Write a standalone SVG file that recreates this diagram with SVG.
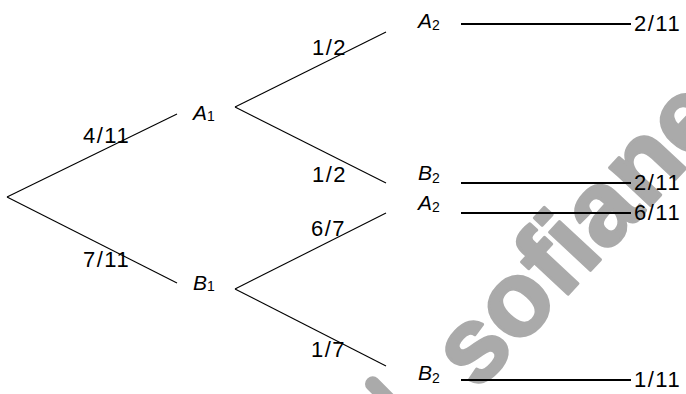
<svg xmlns="http://www.w3.org/2000/svg" width="686" height="394" viewBox="0 0 686 394">
<style>
.br{stroke:#000;stroke-width:1.1;fill:none}
.hl{stroke:#000;stroke-width:2;fill:none}
.lbl{font-family:"Liberation Sans",Arial,sans-serif;font-size:22px;letter-spacing:1.5px;fill:#000}
.nd{font-family:"Liberation Sans",Arial,sans-serif;font-size:21px;font-style:italic;fill:#000}
.sub{font-size:14px;font-style:normal}
.wm{font-family:"Liberation Sans",Arial,sans-serif;font-weight:bold;font-size:106px;fill:#aaaaaa;stroke:#aaaaaa;stroke-width:3;stroke-linejoin:round}
</style>
<rect width="686" height="394" fill="#fff"/>
<g id="watermark">
<text class="wm" transform="translate(477,392) rotate(-47)">sofiane</text>
<rect x="-7" y="-7" width="15" height="40" rx="7" fill="#aaaaaa" transform="translate(372,384) rotate(-45)"/>
</g>
<g id="connectors">
<line class="br" x1="7" y1="197" x2="177" y2="114"/>
<line class="br" x1="7" y1="197" x2="177" y2="283"/>
<line class="br" x1="235" y1="107" x2="386" y2="32"/>
<line class="br" x1="235" y1="107" x2="386" y2="183"/>
<line class="br" x1="235" y1="289" x2="386" y2="213"/>
<line class="br" x1="235" y1="289" x2="386" y2="366"/>
<line class="hl" x1="461" y1="24" x2="631" y2="24"/>
<line class="hl" x1="461" y1="183" x2="631" y2="183"/>
<line class="hl" x1="461" y1="213" x2="631" y2="213"/>
<line class="hl" x1="461" y1="380" x2="631" y2="380"/>
</g>
<g id="edge-labels">
<text class="lbl" x="83" y="143">4/11</text>
<text class="lbl" x="83" y="267">7/11</text>
<text class="lbl" x="312" y="55">1/2</text>
<text class="lbl" x="312" y="182">1/2</text>
<text class="lbl" x="311" y="236">6/7</text>
<text class="lbl" x="311" y="357">1/7</text>
</g>
<g id="node-A1"><text class="nd" x="193" y="120">A<tspan class="sub" dy="1">1</tspan></text></g>
<g id="node-B1"><text class="nd" x="193" y="290">B<tspan class="sub" dy="1">1</tspan></text></g>
<g id="node-A2a"><text class="nd" x="418" y="28">A<tspan class="sub" dy="2">2</tspan></text></g>
<g id="node-B2a"><text class="nd" x="418" y="180">B<tspan class="sub" dy="3">2</tspan></text></g>
<g id="node-A2b"><text class="nd" x="418" y="210">A<tspan class="sub" dy="2">2</tspan></text></g>
<g id="node-B2b"><text class="nd" x="418" y="380">B<tspan class="sub" dy="3">2</tspan></text></g>
<g id="results">
<text class="lbl" x="634" y="31">2/11</text>
<text class="lbl" x="634" y="190">2/11</text>
<text class="lbl" x="634" y="220">6/11</text>
<text class="lbl" x="634" y="387">1/11</text>
</g>
</svg>
